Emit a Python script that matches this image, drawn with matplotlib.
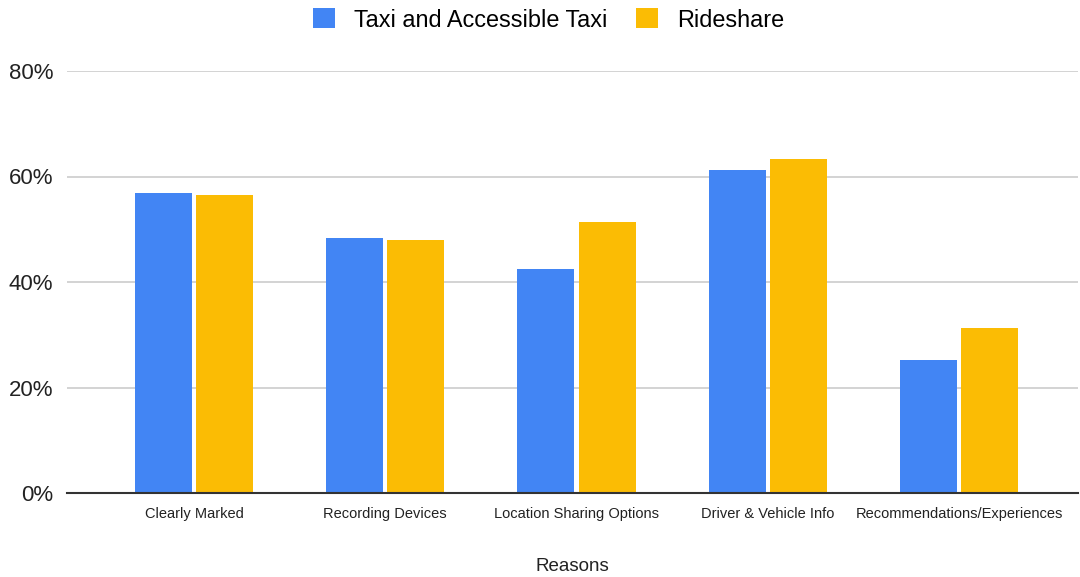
import matplotlib.pyplot as plt
import numpy as np
from matplotlib.ticker import FuncFormatter

plt.rcParams['font.family'] = ['Liberation Sans', 'DejaVu Sans']

categories = ['Clearly Marked', 'Recording Devices', 'Location Sharing Options',
              'Driver & Vehicle Info', 'Recommendations/Experiences']
taxi = [56.8, 48.3, 42.5, 61.2, 25.2]
rideshare = [56.5, 48.0, 51.4, 63.3, 31.3]
series_names = ['Taxi and Accessible Taxi', 'Rideshare']
y_ticks = [0, 20, 40, 60, 80]


def main():
    fig = plt.figure(figsize=(10.8, 5.77), dpi=100)
    ax = fig.add_axes([67 / 1080, 84 / 577, 1011 / 1080, 422 / 577])

    x = np.arange(len(categories))
    width = 0.298
    off = 0.16
    ax.bar(x - off, taxi, width, color='#4285F4', label=series_names[0], zorder=3)
    ax.bar(x + off, rideshare, width, color='#FBBC04', label=series_names[1], zorder=3)

    ax.set_xlim(-0.664, 4.622)
    ax.set_ylim(0, 80)
    ax.set_yticks(y_ticks)
    ax.yaxis.set_major_formatter(FuncFormatter(lambda v, p: f'{v:.0f}%'))
    ax.grid(axis='y', color='#cccccc', linewidth=1.2, zorder=0)
    ax.set_axisbelow(True)

    for s in ['top', 'right', 'left']:
        ax.spines[s].set_visible(False)
    ax.spines['bottom'].set_color('#333333')
    ax.spines['bottom'].set_linewidth(1.5)
    ax.spines['bottom'].set_zorder(4)

    ax.set_xticks(x)
    ax.set_xticklabels(categories, fontsize=10.5, color='#222222')
    ax.tick_params(axis='x', length=0, pad=10)
    ax.tick_params(axis='y', length=0, labelsize=16, labelcolor='#222222', pad=10)

    ax.set_xlabel('Reasons', fontsize=13.5, color='#222222', labelpad=27)

    fig.legend(loc='center', bbox_to_anchor=(0.508, 1 - 20 / 577), ncol=2,
               frameon=False, fontsize=16.9, handlelength=0.93, handleheight=0.93,
               handletextpad=0.8, columnspacing=1.25)

    fig.savefig('out.png', dpi=100)


if __name__ == "__main__":
    main()
